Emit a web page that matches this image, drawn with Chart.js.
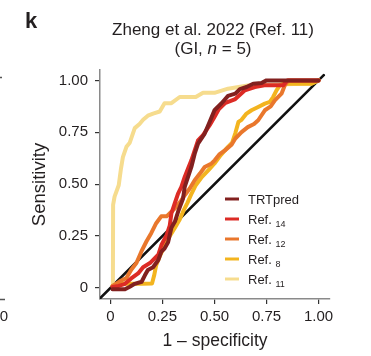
<!DOCTYPE html>
<html>
<head>
<meta charset="utf-8">
<script src="https://cdn.jsdelivr.net/npm/chart.js@4"></script>
<style>
  html, body { margin: 0; padding: 0; background: #fff; }
</style>
</head>
<body>
<canvas id="roc" width="371" height="356"></canvas>
<script>
// ticks
const xTicks = [0, 0.25, 0.5, 0.75, 1];
const yTicks = [0, 0.25, 0.5, 0.75, 1];

// ROC curves (1 - specificity, sensitivity)
const trtpredX = [0.01, 0.07, 0.093, 0.117, 0.15, 0.165, 0.18, 0.205, 0.23, 0.245, 0.26, 0.277, 0.293, 0.31, 0.325, 0.349, 0.357, 0.373, 0.389, 0.405, 0.421, 0.453, 0.477, 0.5, 0.534, 0.565, 0.6, 0.622, 0.654, 0.686, 0.726, 0.75, 1];
const trtpredY = [-0.006, -0.006, 0.006, 0.02, 0.03, 0.06, 0.087, 0.1, 0.135, 0.175, 0.19, 0.22, 0.29, 0.32, 0.367, 0.431, 0.487, 0.535, 0.583, 0.647, 0.695, 0.744, 0.8, 0.856, 0.89, 0.925, 0.936, 0.958, 0.968, 0.984, 0.987, 1, 1];

const ref14X = [0.01, 0.04, 0.07, 0.1, 0.133, 0.157, 0.19, 0.23, 0.245, 0.27, 0.285, 0.293, 0.309, 0.325, 0.341, 0.357, 0.373, 0.389, 0.405, 0.421, 0.445, 0.477, 0.5, 0.52, 0.55, 0.6, 0.646, 0.694, 0.74, 0.83, 0.85, 1];
const ref14Y = [0.005, 0.01, 0.02, 0.046, 0.07, 0.1, 0.12, 0.16, 0.207, 0.255, 0.3, 0.359, 0.407, 0.455, 0.487, 0.535, 0.575, 0.615, 0.663, 0.711, 0.736, 0.784, 0.824, 0.86, 0.89, 0.91, 0.952, 0.968, 0.976, 0.976, 1, 1];

const ref12X = [0.01, 0.045, 0.077, 0.1, 0.125, 0.149, 0.173, 0.196, 0.22, 0.244, 0.27, 0.293, 0.317, 0.341, 0.357, 0.381, 0.405, 0.43, 0.453, 0.486, 0.501, 0.525, 0.55, 0.582, 0.6, 0.63, 0.66, 0.69, 0.71, 0.742, 0.77, 0.79, 0.822, 0.838, 0.854, 1];
const ref12Y = [0.01, 0.032, 0.048, 0.088, 0.12, 0.176, 0.224, 0.264, 0.312, 0.345, 0.345, 0.367, 0.391, 0.423, 0.447, 0.479, 0.519, 0.551, 0.583, 0.6, 0.615, 0.645, 0.663, 0.69, 0.72, 0.751, 0.775, 0.79, 0.808, 0.856, 0.875, 0.904, 0.936, 0.976, 1, 1];

const ref8X = [0.01, 0.05, 0.1, 0.15, 0.2, 0.21, 0.22, 0.24, 0.26, 0.285, 0.31, 0.333, 0.35, 0.37, 0.39, 0.41, 0.44, 0.47, 0.5, 0.53, 0.565, 0.585, 0.6, 0.615, 0.63, 0.654, 0.678, 0.71, 0.742, 0.766, 0.782, 0.798, 0.814, 0.83, 0.966, 1];
const ref8Y = [0.01, 0.02, 0.02, 0.02, 0.022, 0.06, 0.11, 0.16, 0.2, 0.25, 0.29, 0.33, 0.37, 0.41, 0.455, 0.495, 0.535, 0.567, 0.6, 0.64, 0.68, 0.7, 0.745, 0.8, 0.81, 0.84, 0.856, 0.872, 0.888, 0.896, 0.92, 0.952, 0.976, 0.984, 0.984, 1];

const ref11X = [0.012, 0.013, 0.02, 0.04, 0.05, 0.06, 0.077, 0.093, 0.117, 0.14, 0.157, 0.18, 0.205, 0.237, 0.26, 0.293, 0.333, 0.41, 0.445, 0.5, 0.565, 0.66, 0.8, 0.966, 1];
const ref11Y = [0.02, 0.4, 0.44, 0.495, 0.57, 0.63, 0.68, 0.7, 0.77, 0.79, 0.81, 0.83, 0.84, 0.85, 0.89, 0.89, 0.92, 0.92, 0.94, 0.94, 0.96, 0.975, 0.98, 0.985, 1];

const diagX = [-0.05, 1.025];
const diagY = [-0.05, 1.025];

const legendNames = ["TRTpred", "Ref.", "Ref.", "Ref.", "Ref."];
const legendSubs = ["", "14", "12", "8", "11"];
const colors = ["#82201f", "#dc2b25", "#e9772c", "#f3b41f", "#f6dc8e"];

const FONT = "'Liberation Sans', Arial, sans-serif";
const INK = "#231f20";

function pts(xs, ys) {
  return xs.map((x, i) => ({ x: x, y: ys[i] }));
}

function curva(xs, ys, cor, larg) {
  return { data: pts(xs, ys), borderColor: cor, borderWidth: larg, showLine: true,
           pointRadius: 0, tension: 0, fill: false, borderJoinStyle: 'round', borderCapStyle: 'round' };
}

// titulo, letra do painel e legenda desenhados a mao
const textos = {
  id: 'textos',
  afterDraw(chart) {
    const ctx = chart.ctx;
    ctx.save();
    ctx.fillStyle = INK;
    ctx.textBaseline = 'alphabetic';

    ctx.font = "bold 22px " + FONT;
    ctx.textAlign = 'left';
    ctx.fillText("k", 25, 28);

    const cx = (chart.chartArea.left + chart.chartArea.right) / 2 - 2;
    ctx.font = "17px " + FONT;
    ctx.textAlign = 'center';
    ctx.fillText("Zheng et al. 2022 (Ref. 11)", cx, 35);

    // segunda linha com n em italico
    const p1 = "(GI, ", p2 = "n", p3 = " = 5)";
    ctx.font = "17px " + FONT;
    const w1 = ctx.measureText(p1).width, w3 = ctx.measureText(p3).width;
    ctx.font = "italic 17px " + FONT;
    const w2 = ctx.measureText(p2).width;
    let x0 = cx - (w1 + w2 + w3) / 2;
    ctx.textAlign = 'left';
    ctx.font = "17px " + FONT;
    ctx.fillText(p1, x0, 54);
    ctx.font = "italic 17px " + FONT;
    ctx.fillText(p2, x0 + w1, 54);
    ctx.font = "17px " + FONT;
    ctx.fillText(p3, x0 + w1 + w2, 54);

    // restos do painel vizinho
    ctx.font = "15px " + FONT;
    ctx.textAlign = 'right';
    ctx.fillText("1.00", 8, 321);
    ctx.strokeStyle = "#555";
    ctx.lineWidth = 1.5;
    ctx.beginPath();
    ctx.moveTo(0, 299.5); ctx.lineTo(5, 299.5);
    ctx.moveTo(0, 77.5); ctx.lineTo(2, 77.5);
    ctx.stroke();

    // legenda
    const lx = 225, ly = 199, passo = 20;
    legendNames.forEach((nome, i) => {
      const y = ly + i * passo;
      ctx.strokeStyle = colors[i];
      ctx.lineWidth = 3;
      ctx.beginPath();
      ctx.moveTo(lx, y); ctx.lineTo(lx + 14, y);
      ctx.stroke();
      ctx.fillStyle = INK;
      ctx.textAlign = 'left';
      ctx.font = "13px " + FONT;
      ctx.fillText(nome, lx + 23, y + 4.5);
      if (legendSubs[i]) {
        const w = ctx.measureText(nome + " ").width;
        ctx.font = "9px " + FONT;
        ctx.fillText(legendSubs[i], lx + 23 + w, y + 8);
      }
    });
    ctx.restore();
  }
};

const fmt = v => v === 0 ? "0" : v.toFixed(2);

new Chart(document.getElementById("roc"), {
  type: 'scatter',
  data: {
    datasets: [
      curva(trtpredX, trtpredY, colors[0], 4),
      curva(ref14X, ref14Y, colors[1], 4),
      curva(ref12X, ref12Y, colors[2], 4),
      curva(ref8X, ref8Y, colors[3], 4),
      curva(ref11X, ref11Y, colors[4], 4),
      curva(diagX, diagY, "#111", 2.6)
    ]
  },
  options: {
    responsive: false,
    animation: false,
    layout: { padding: { top: 70, right: 41, left: 0, bottom: 0 } },
    plugins: { legend: { display: false }, tooltip: { enabled: false } },
    scales: {
      x: {
        type: 'linear', min: -0.05, max: 1.055,
        afterBuildTicks: s => { s.ticks = xTicks.map(v => ({ value: v })); },
        afterFit: s => { s.height = 57; },
        ticks: { padding: 4, color: INK, font: { family: FONT, size: 15 }, callback: fmt, maxRotation: 0, autoSkip: false },
        grid: { drawOnChartArea: false, tickLength: 5, color: "#333", lineWidth: 1.2 },
        border: { display: true, color: "#8a8a8a", width: 1.5 },
        title: { display: true, text: "1 – specificity", color: INK, font: { family: FONT, size: 17.5 }, padding: { top: 0, bottom: 4 } }
      },
      y: {
        type: 'linear', min: -0.053, max: 1.05,
        afterBuildTicks: s => { s.ticks = yTicks.map(v => ({ value: v })); },
        afterFit: s => { s.width = 100; },
        ticks: { padding: 7, color: INK, font: { family: FONT, size: 15 }, callback: fmt, autoSkip: false },
        grid: { drawOnChartArea: false, tickLength: 5, color: "#333", lineWidth: 1.2 },
        border: { display: true, color: "#8a8a8a", width: 1.5 },
        title: { display: true, text: "Sensitivity", color: INK, font: { family: FONT, size: 18.5 }, padding: { top: 29, bottom: 0 } }
      }
    }
  },
  plugins: [textos]
});
</script>
</body>
</html>
